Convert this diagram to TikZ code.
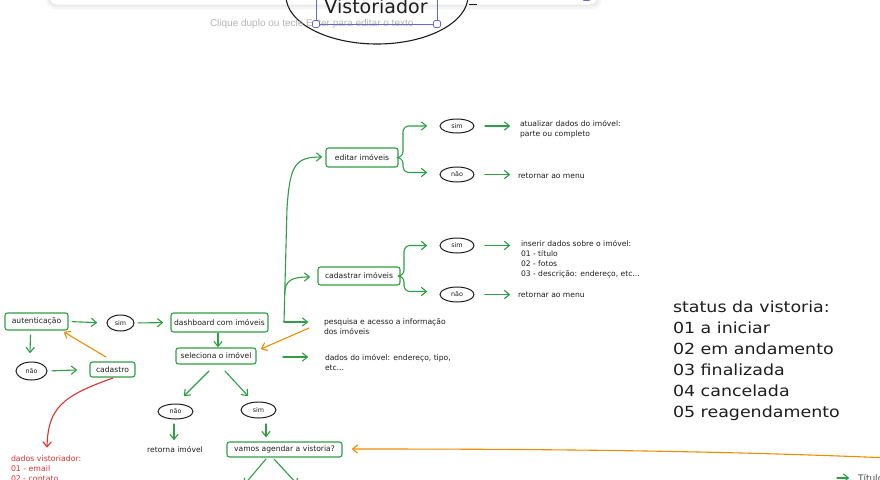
\documentclass[tikz,border=0pt]{standalone}
\usepackage{fontspec}
\usetikzlibrary{arrows.meta,shapes.geometric,calc}
\newfontfamily\hand{DejaVu Sans}
\newfontfamily\handwide[FakeStretch=1.14]{DejaVu Sans}
\newfontfamily\uifont{Liberation Sans}
\definecolor{exgreen}{HTML}{2F9E44}
\definecolor{exorange}{HTML}{F08C00}
\definecolor{exred}{HTML}{E03131}
\definecolor{exink}{HTML}{1E1E1E}
\definecolor{exblue}{HTML}{6965DB}
\definecolor{phgray}{HTML}{B5B5B5}
\begin{document}
\begin{tikzpicture}[x=1pt,y=-1pt,
  every node/.style={inner sep=0pt, outer sep=0pt},
  gbox/.style={draw=exgreen, line width=1.1pt, rounded corners=2.5pt, font=\hand\fontsize{7.6}{9}\selectfont, text=exink},
  oval/.style={ellipse, draw=exink, line width=1pt, font=\hand\fontsize{6.4}{8}\selectfont, text=exink},
  note/.style={font=\hand\fontsize{7.6}{10}\selectfont, text=exink, align=left},
  tip/.style={-{Straight Barb[length=5pt,width=8pt,round]}},
  garr/.style={tip, draw=exgreen, line width=1.1pt, line cap=round},
  oarr/.style={tip, draw=exorange, line width=1.1pt, line cap=round},
  rarr/.style={tip, draw=exred, line width=1.1pt, line cap=round},
]
\useasboundingbox (0,0) rectangle (880,479);
\fill[white] (0,0) rectangle (880,479);

% toolbar panel with shadow
\fill[black!4, rounded corners=9pt] (46,-20) rectangle (601,9);
\fill[black!8, rounded corners=8pt] (48,-20) rectangle (599,6.5);
\fill[white, rounded corners=7pt] (50,-20) rectangle (597,4.5);
\draw[exblue, line width=0.8pt, rounded corners=1pt] (583,-4) rectangle (590,0.5);

% Vistoriador ellipse being edited
\node[ellipse, draw=exink, line width=1.1pt, minimum width=182pt, minimum height=96pt] (vist) at (377,-4) {};
\node[font=\hand\fontsize{19}{22}\selectfont, text=exink, anchor=base] (vistxt) at (376,13.5) {Vistoriador};
\draw[exink, line width=1pt] (vist.east |- 0,4) ++(1,0) coordinate (dashA) -- ++(8,0) coordinate (dashB);
\node[font=\uifont\fontsize{10}{12}\selectfont, text=phgray, anchor=west] (ph) at (210,24) {Clique duplo ou tecle Enter para editar o texto};
\draw[exblue, line width=0.8pt] (316,-5) rectangle (437,24);
\draw[exblue, line width=0.8pt, fill=white, rounded corners=2pt] (312.5,20.5) rectangle (319.5,27.5);
\draw[exblue, line width=0.8pt, fill=white, rounded corners=2pt] (433.5,20.5) rectangle (440.5,27.5);

% nodes
\node[gbox, minimum width=63pt, minimum height=17pt] (auth) at (36.5,321.5) {autenticação};
\node[oval, minimum width=27pt, minimum height=16pt] (sim1) at (120.5,323) {sim};
\node[gbox, minimum width=97pt, minimum height=19pt] (dash) at (219.5,322.5) {dashboard com imóveis};
\node[oval, minimum width=31pt, minimum height=18pt] (nao1) at (31.5,371) {não};
\node[gbox, minimum width=45pt, minimum height=15pt] (cad) at (112.5,369.5) {cadastro};
\node[gbox, minimum width=80pt, minimum height=16pt] (sel) at (216,356) {seleciona o imóvel};
\node[oval, minimum width=35pt, minimum height=15pt] (nao2) at (175.5,411.5) {não};
\node[oval, minimum width=35pt, minimum height=16pt] (sim2) at (258.5,410) {sim};
\node[note, anchor=center] (retim) at (175,450) {retorna imóvel};
\node[gbox, minimum width=115pt, minimum height=15pt] (agend) at (284.5,449.5) {vamos agendar a vistoria?};
\node[gbox, minimum width=72pt, minimum height=19pt] (edit) at (362,157.5) {editar imóveis};
\node[gbox, minimum width=82pt, minimum height=18pt] (cadi) at (359,276) {cadastrar imóveis};
\node[oval, minimum width=34pt, minimum height=14pt] (esim) at (457,126) {sim};
\node[oval, minimum width=34pt, minimum height=15pt] (enao) at (457,174.5) {não};
\node[oval, minimum width=34pt, minimum height=15pt] (csim) at (457,245.5) {sim};
\node[oval, minimum width=34pt, minimum height=15pt] (cnao) at (457,294.5) {não};
\node[note, anchor=north west] (atual) at (520,120) {atualizar dados do imóvel:\\parte ou completo};
\node[note, anchor=west] (ret1) at (518,176) {retornar ao menu};
\node[note, anchor=north west] (inser) at (521,240) {inserir dados sobre o imóvel:\\01 - título\\02 - fotos\\03 - descrição: endereço, etc...};
\node[note, anchor=west] (ret2) at (518,295) {retornar ao menu};
\node[note, anchor=north west] (pesq) at (324,319) {pesquisa e acesso a informação\\dos imóveis};
\node[note, anchor=north west] (dimo) at (325,354) {dados do imóvel: endereço, tipo,\\etc...};
\node[note, anchor=north west, text=exred, font=\hand\fontsize{7.8}{10}\selectfont] (reddados) at (11,455.5) {dados vistoriador:\\01 - email\\02 - contato};
\node[anchor=north west, align=left, font=\handwide\fontsize{15.3}{21}\selectfont, text=exink] (status) at (673,300.5) {status da vistoria:\\01 a iniciar\\02 em andamento\\03 finalizada\\04 cancelada\\05 reagendamento};
\node[note, anchor=west, font=\hand\fontsize{9}{11}\selectfont, text=exink!80] (titul) at (858,478) {Título};

% connectors
\draw[garr, shorten <=4pt, shorten >=10pt] (auth.east) -- (sim1.west);
\draw[garr, shorten <=4pt, shorten >=8pt] (sim1.east) -- (dash.west);
\draw[garr] ($(auth.south)+(-6,5)$) -- ($(nao1.north)+(-1.5,-9)$);
\draw[garr, shorten <=5pt, shorten >=13pt] (nao1.east) -- (cad.west);
\draw[oarr] ($(cad.north)+(-6.5,-5)$) -- ($(auth.south east)+(-4,2)$);
\draw[rarr] ($(cad.south)+(0.5,1)$) .. controls (62,396) and (48,408) .. ($(reddados.north west)+(36,-8)$);
\draw[garr] ($(dash.south)+(-1.5,1)$) -- ($(sel.north)+(2,-1)$);
\draw[garr] ($(sel.south)+(-7,7)$) -- ($(nao2.north)+(8.5,-8)$);
\draw[garr] ($(sel.south)+(9,7)$) -- ($(sim2.north)+(-10.5,-6)$);
\draw[garr] ($(nao2.south)+(-1.5,5)$) -- ($(retim.north)+(-1,-7)$);
\draw[garr] ($(sim2.south)+(7.5,6)$) -- ($(agend.north)+(-18.5,-5)$);
\coordinate (offL) at (244,485);
\coordinate (offR) at (298,485);
\draw[garr] ($(agend.south)+(-18.5,2)$) -- (offL);
\draw[garr] ($(agend.south)+(-10.5,2)$) -- (offR);
\draw[garr] ($(sel.east)+(27,1)$) -- ($(dimo.north west)+(-17,3)$);

\coordinate (hub) at ($(dash.east)+(16,-0.5)$);
\draw[garr] (hub) -- (287,208) .. controls (290,165) and (295,157) .. ($(edit.west)+(-4,-0.5)$);
\draw[garr] ($(hub)+(0.6,-27)$) .. controls (285,281) and (290,277) .. ($(cadi.west)+(-8,1)$);
\draw[garr] (hub) -- ($(pesq.north west)+(-16,3)$);
\draw[oarr] ($(pesq.north west)+(-15,9)$) -- ($(sel.north east)+(5,1)$);

\draw[garr, rounded corners=6pt] (edit.east) -- ++(5,0) |- ($(esim.west)+(-13,0)$);
\draw[garr, rounded corners=6pt] (edit.east) -- ++(5,0) |- ($(enao.west)+(-13,-2)$);
\draw[garr, rounded corners=6pt] (cadi.east) -- ++(4,0) |- ($(csim.west)+(-13,0)$);
\draw[garr, rounded corners=6pt] (cadi.east) -- ++(4,0) |- ($(cnao.west)+(-13,-3)$);

\draw[garr, shorten <=11pt, shorten >=10pt] (esim.east) -- (esim.east -| atual.west);
\draw[garr, shorten <=11pt, shorten >=8pt] (enao.east) -- (enao.east -| ret1.west);
\draw[garr, shorten <=11pt, shorten >=11pt] (csim.east) -- (csim.east -| inser.west);
\draw[garr, shorten <=11pt, shorten >=8pt] (cnao.east) -- (cnao.east -| ret2.west);

\coordinate (offO) at (890,458);
\draw[oarr] (offO) .. controls (700,450) and (520,449) .. ($(agend.east)+(10,-0.5)$);
\draw[garr] ($(titul.west)+(-21,0)$) -- ($(titul.west)+(-9,0)$);
\end{tikzpicture}
\end{document}
